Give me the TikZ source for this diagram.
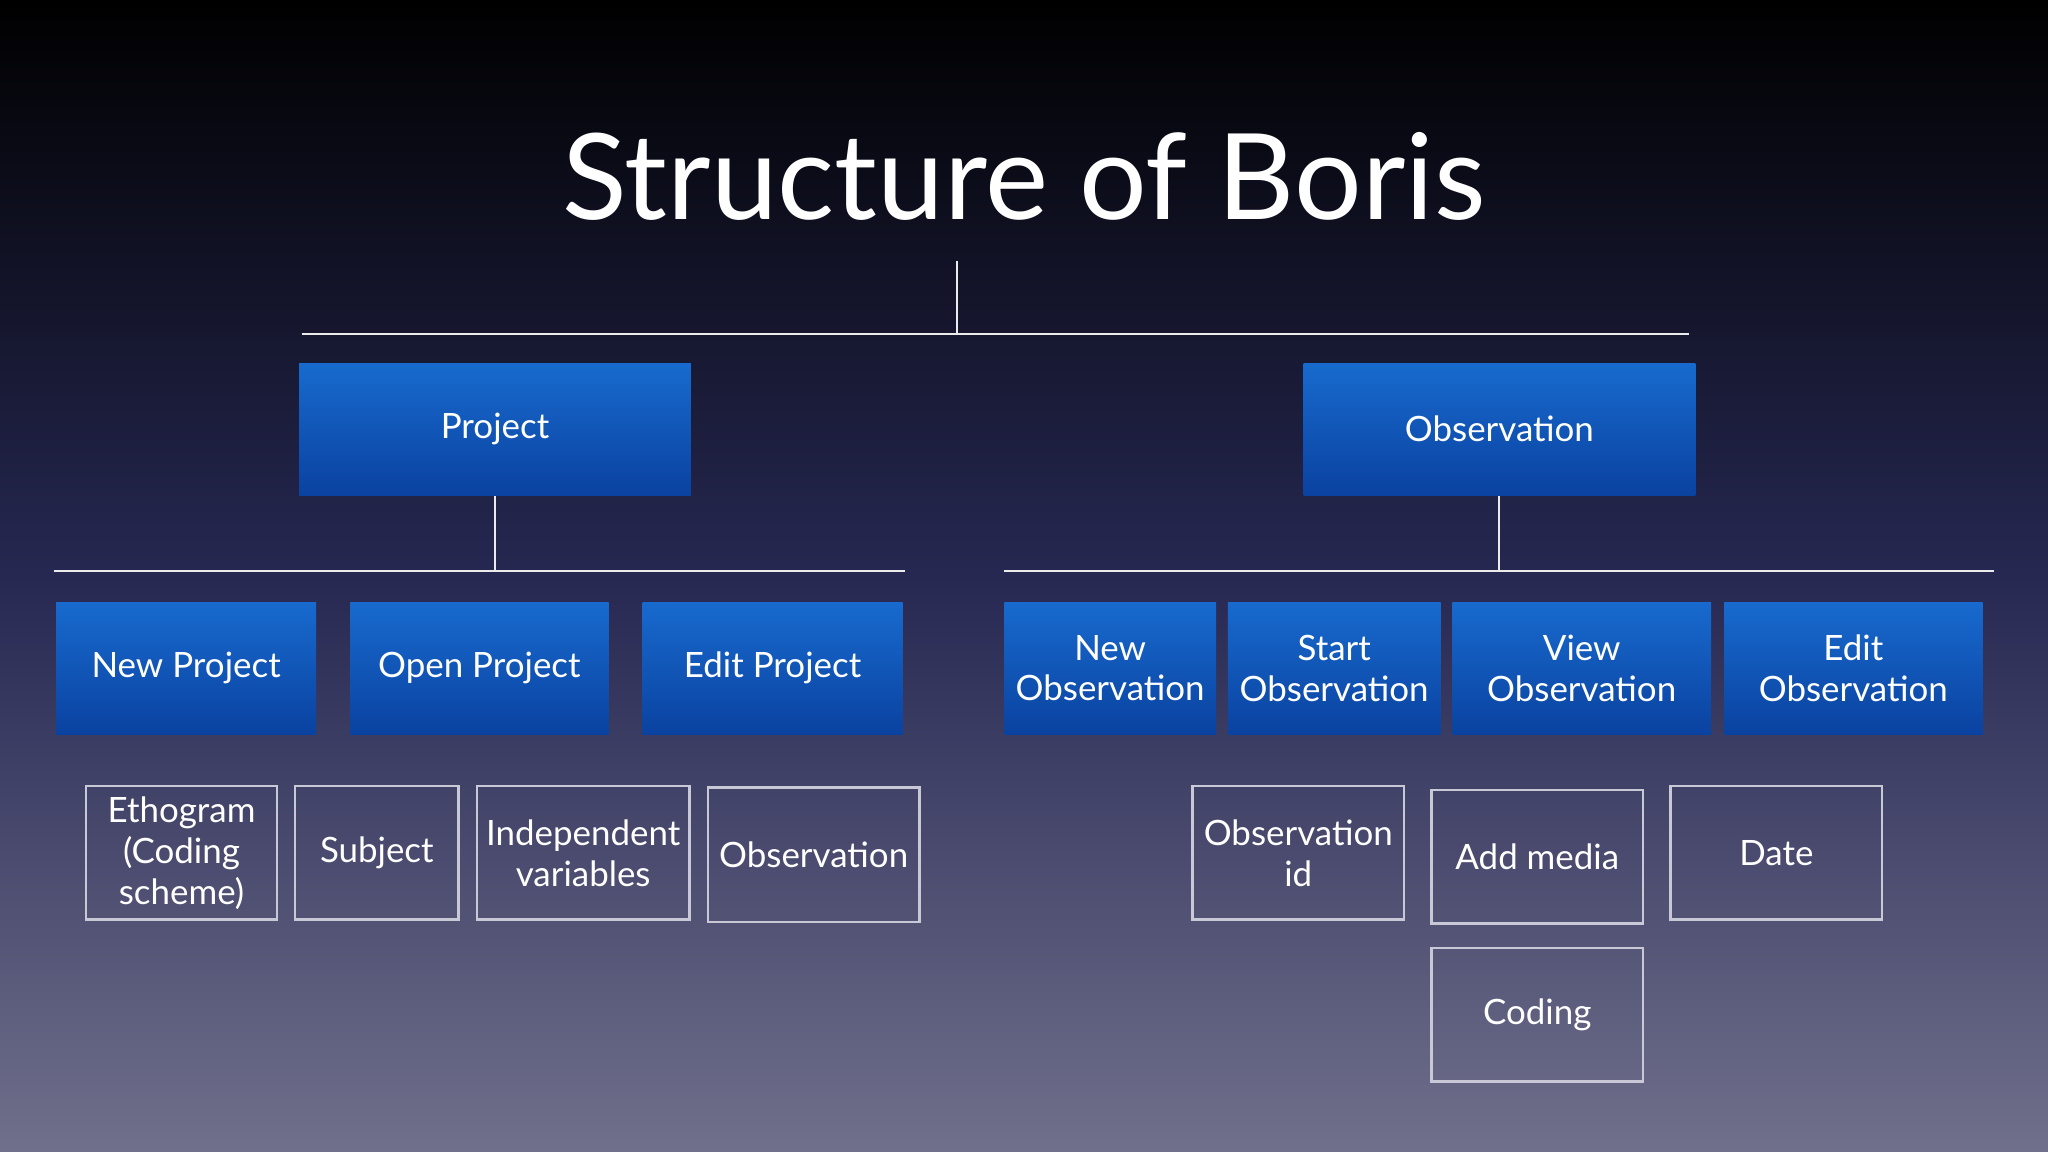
\documentclass[tikz,border=0pt]{standalone}
\usepackage{fontspec}
\setmainfont{Lato}
\begin{document}
\begin{tikzpicture}[x=0.01cm,y=-0.01cm,
  blue/.style={draw=none,top color={rgb,255:red,24;green,106;blue,206},bottom color={rgb,255:red,10;green,66;blue,160},text=white,font=\fontsize{7.6}{8.9}\selectfont,align=center,inner sep=0pt},
  outl/.style={draw={rgb,255:red,200;green,200;blue,215},line width=0.5pt,text=white,font=\fontsize{7.6}{8.9}\selectfont,align=center,inner sep=0pt},
  ln/.style={draw=white!92!black,line width=0.45pt}]
\shade[top color=black,bottom color={rgb,255:red,112;green,112;blue,140},middle color={rgb,255:red,38;green,40;blue,82}] (0,0) rectangle (1568,882);
\useasboundingbox (0,0) rectangle (1568,882);
\newcommand{\bx}[6]{\node[#1,minimum width={(#4-#3)*0.01cm},minimum height={(#6-#5)*0.01cm}] (#2) at ({(#3+#4)/2},{(#5+#6)/2})}
\node[text=white,font=\fontsize{26}{29}\selectfont] (title) at (784,135) {Structure of Boris};
\bx{blue}{proj}{229}{529}{278}{379} {Project};
\bx{blue}{obs}{998}{1298}{278}{379} {Observation};
\coordinate (tt) at (733,200);
\coordinate (tj) at (733,256);
\coordinate (tl) at (231,256);
\coordinate (tr) at (1293,256);
\draw[ln] (tt) -- (tj); \draw[ln] (tl) -- (tr);
\coordinate (pj) at (379,437); \coordinate (pl) at (41,437); \coordinate (pr) at (693,437);
\draw[ln] (proj.south) -- (pj); \draw[ln] (pl) -- (pr);
\coordinate (oj) at (1148,437); \coordinate (ol) at (769,437); \coordinate (or) at (1527,437);
\draw[ln] (obs.south) -- (oj); \draw[ln] (ol) -- (or);
\bx{blue}{np}{43}{242}{461}{562} {New Project};
\bx{blue}{op}{268}{466}{461}{562} {Open Project};
\bx{blue}{ep}{492}{691}{461}{562} {Edit Project};
\bx{blue}{no}{769}{931}{461}{562} {New\\Observation};
\bx{blue}{so}{940}{1103}{461}{562} {Start\\Observation};
\bx{blue}{vo}{1112}{1310}{461}{562} {View\\Observation};
\bx{blue}{eo}{1320}{1518}{461}{562} {Edit\\Observation};
\bx{outl}{eth}{66}{212}{602}{704} {Ethogram\\(Coding\\scheme)};
\bx{outl}{sub}{226}{351}{602}{704} {Subject};
\bx{outl}{iv}{365}{528}{602}{704} {Independent\\variables};
\bx{outl}{ob2}{542}{704}{603}{706} {Observation};
\bx{outl}{oid}{913}{1075}{602}{704} {Observation\\id};
\bx{outl}{am}{1096}{1258}{605}{707} {Add media};
\bx{outl}{dt}{1279}{1441}{602}{704} {Date};
\bx{outl}{cd}{1096}{1258}{726}{828} {Coding};
\end{tikzpicture}
\end{document}
